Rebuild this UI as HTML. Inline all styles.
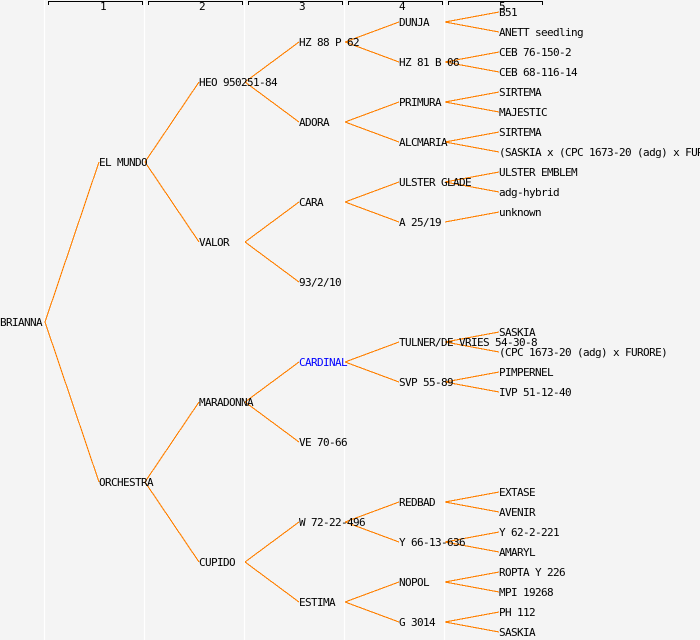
<!DOCTYPE html>
<html><head><meta charset="utf-8"><style>
html,body{margin:0;padding:0;background:#f4f4f4;}
svg{display:block;}
text{font-family:"DejaVu Sans Mono","Liberation Mono",monospace;font-size:11px;letter-spacing:-0.62px;fill:#000;}
</style></head><body>
<svg width="700" height="640" xmlns="http://www.w3.org/2000/svg">
<rect width="700" height="640" fill="#f4f4f4"/>
<g stroke="#ffffff" stroke-width="1.2">
<line x1="44.5" y1="0" x2="44.5" y2="640"/>
<line x1="144.5" y1="0" x2="144.5" y2="640"/>
<line x1="244.5" y1="0" x2="244.5" y2="640"/>
<line x1="344.5" y1="0" x2="344.5" y2="640"/>
<line x1="444.5" y1="0" x2="444.5" y2="640"/>
</g>
<g stroke="#000" stroke-width="1" fill="none">
<path d="M48.5 5V1.5H142.5V5"/>
<path d="M148.5 5V1.5H242.5V5"/>
<path d="M248.5 5V1.5H342.5V5"/>
<path d="M348.5 5V1.5H442.5V5"/>
<path d="M448.5 5V1.5H542.5V5"/>
</g>
<g style="font-size:8px;letter-spacing:0">
<text x="100" y="10">1</text><text x="199" y="10">2</text><text x="299" y="10">3</text><text x="399" y="10">4</text><text x="499" y="10">5</text>
</g>
<g stroke="#ff8000" stroke-width="1.1" fill="none" shape-rendering="crispEdges">
<line x1="45" y1="322" x2="99" y2="162"/><line x1="45" y1="322" x2="99" y2="482"/>
<line x1="145" y1="162" x2="199" y2="82"/><line x1="145" y1="162" x2="199" y2="242"/>
<line x1="145" y1="482" x2="199" y2="402"/><line x1="145" y1="482" x2="199" y2="562"/>
<line x1="245" y1="82" x2="299" y2="42"/><line x1="245" y1="82" x2="299" y2="122"/>
<line x1="245" y1="242" x2="299" y2="202"/><line x1="245" y1="242" x2="299" y2="282"/>
<line x1="245" y1="402" x2="299" y2="362"/><line x1="245" y1="402" x2="299" y2="442"/>
<line x1="245" y1="562" x2="299" y2="522"/><line x1="245" y1="562" x2="299" y2="602"/>
<line x1="345" y1="42" x2="399" y2="22"/><line x1="345" y1="42" x2="399" y2="62"/>
<line x1="345" y1="122" x2="399" y2="102"/><line x1="345" y1="122" x2="399" y2="142"/>
<line x1="345" y1="202" x2="399" y2="182"/><line x1="345" y1="202" x2="399" y2="222"/>
<line x1="345" y1="362" x2="399" y2="342"/><line x1="345" y1="362" x2="399" y2="382"/>
<line x1="345" y1="522" x2="399" y2="502"/><line x1="345" y1="522" x2="399" y2="542"/>
<line x1="345" y1="602" x2="399" y2="582"/><line x1="345" y1="602" x2="399" y2="622"/>
<line x1="445" y1="22" x2="499" y2="12"/><line x1="445" y1="22" x2="499" y2="32"/>
<line x1="445" y1="62" x2="499" y2="52"/><line x1="445" y1="62" x2="499" y2="72"/>
<line x1="445" y1="102" x2="499" y2="92"/><line x1="445" y1="102" x2="499" y2="112"/>
<line x1="445" y1="142" x2="499" y2="132"/><line x1="445" y1="142" x2="499" y2="152"/>
<line x1="445" y1="182" x2="499" y2="172"/><line x1="445" y1="182" x2="499" y2="192"/>
<line x1="445" y1="222" x2="499" y2="212"/>
<line x1="445" y1="342" x2="499" y2="332"/><line x1="445" y1="342" x2="499" y2="352"/>
<line x1="445" y1="382" x2="499" y2="372"/><line x1="445" y1="382" x2="499" y2="392"/>
<line x1="445" y1="502" x2="499" y2="492"/><line x1="445" y1="502" x2="499" y2="512"/>
<line x1="445" y1="542" x2="499" y2="532"/><line x1="445" y1="542" x2="499" y2="552"/>
<line x1="445" y1="582" x2="499" y2="572"/><line x1="445" y1="582" x2="499" y2="592"/>
<line x1="445" y1="622" x2="499" y2="612"/><line x1="445" y1="622" x2="499" y2="632"/>
</g>
<g>
<text x="0" y="326">BRIANNA</text>
<text x="99" y="166">EL MUNDO</text>
<text x="99" y="486">ORCHESTRA</text>
<text x="199" y="86">HEO 950251-84</text>
<text x="199" y="246">VALOR</text>
<text x="199" y="406">MARADONNA</text>
<text x="199" y="566">CUPIDO</text>
<text x="299" y="46">HZ 88 P 62</text>
<text x="299" y="126">ADORA</text>
<text x="299" y="206">CARA</text>
<text x="299" y="286">93/2/10</text>
<text x="299" y="366" style="fill:#0000ff">CARDINAL</text>
<text x="299" y="446">VE 70-66</text>
<text x="299" y="526">W 72-22-496</text>
<text x="299" y="606">ESTIMA</text>
<text x="399" y="26">DUNJA</text>
<text x="399" y="66">HZ 81 B 06</text>
<text x="399" y="106">PRIMURA</text>
<text x="399" y="146">ALCMARIA</text>
<text x="399" y="186">ULSTER GLADE</text>
<text x="399" y="226">A 25/19</text>
<text x="399" y="346">TULNER/DE VRIES 54-30-8</text>
<text x="399" y="386">SVP 55-89</text>
<text x="399" y="506">REDBAD</text>
<text x="399" y="546">Y 66-13-636</text>
<text x="399" y="586">NOPOL</text>
<text x="399" y="626">G 3014</text>
<text x="499" y="16">B51</text>
<text x="499" y="36">ANETT seedling</text>
<text x="499" y="56">CEB 76-150-2</text>
<text x="499" y="76">CEB 68-116-14</text>
<text x="499" y="96">SIRTEMA</text>
<text x="499" y="116">MAJESTIC</text>
<text x="499" y="136">SIRTEMA</text>
<text x="499" y="156">(SASKIA x (CPC 1673-20 (adg) x FUROR</text>
<text x="499" y="176">ULSTER EMBLEM</text>
<text x="499" y="196">adg-hybrid</text>
<text x="499" y="216">unknown</text>
<text x="499" y="336">SASKIA</text>
<text x="499" y="356">(CPC 1673-20 (adg) x FURORE)</text>
<text x="499" y="376">PIMPERNEL</text>
<text x="499" y="396">IVP 51-12-40</text>
<text x="499" y="496">EXTASE</text>
<text x="499" y="516">AVENIR</text>
<text x="499" y="536">Y 62-2-221</text>
<text x="499" y="556">AMARYL</text>
<text x="499" y="576">ROPTA Y 226</text>
<text x="499" y="596">MPI 19268</text>
<text x="499" y="616">PH 112</text>
<text x="499" y="636">SASKIA</text>
</g>
</svg>
</body></html>
